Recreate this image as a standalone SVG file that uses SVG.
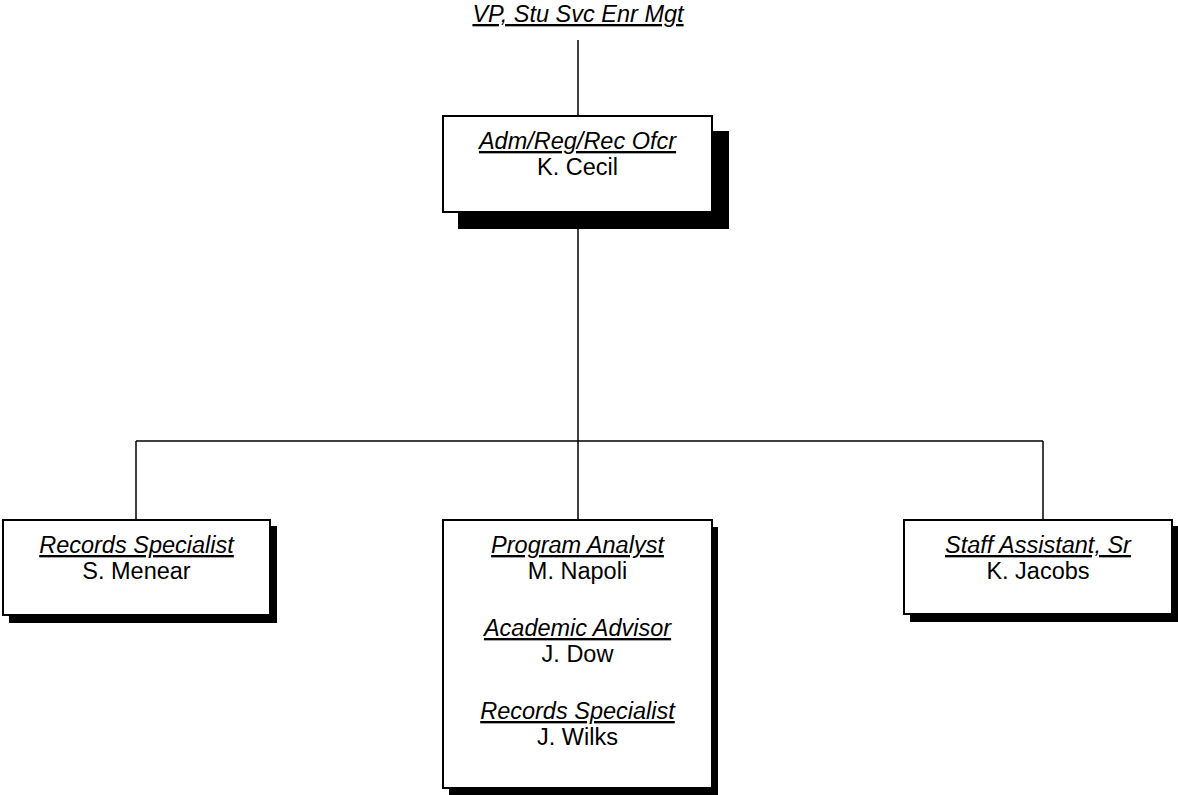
<svg xmlns="http://www.w3.org/2000/svg" width="1178" height="795" viewBox="0 0 1178 795">
<style>
.bg{fill:#fff}
.line{stroke:#000;stroke-width:1.5;fill:none}
.box{fill:#fff;stroke:#000;stroke-width:2}
.shadow{fill:#000}
text{font-family:"Liberation Sans",Arial,sans-serif;font-size:23.5px;fill:#000;text-anchor:middle}
.title{font-style:italic;text-decoration:underline}
</style>
<rect class="bg" x="0" y="0" width="1178" height="795"/>
<g id="connectors">
<line class="line" x1="578" y1="40" x2="578" y2="116"/>
<line class="line" x1="578" y1="212" x2="578" y2="520"/>
<line class="line" x1="136" y1="441" x2="1043" y2="441"/>
<line class="line" x1="136" y1="441" x2="136" y2="520"/>
<line class="line" x1="1043" y1="441" x2="1043" y2="520"/>
</g>
<g id="vp">
<text class="title" x="578" y="22">VP, Stu Svc Enr Mgt</text>
</g>
<g id="node-cecil">
<rect class="shadow" x="458" y="131" width="271" height="98"/>
<rect class="box" x="443" y="116" width="269" height="96"/>
<text class="title" x="577.5" y="149">Adm/Reg/Rec Ofcr</text>
<text x="577.5" y="175">K. Cecil</text>
</g>
<g id="node-menear">
<rect class="shadow" x="9" y="526" width="268" height="97"/>
<rect class="box" x="3" y="520" width="267" height="95"/>
<text class="title" x="136.5" y="553">Records Specialist</text>
<text x="136.5" y="579">S. Menear</text>
</g>
<g id="node-program">
<rect class="shadow" x="449" y="527" width="269" height="268"/>
<rect class="box" x="443" y="520" width="269" height="268"/>
<text class="title" x="577.5" y="553">Program Analyst</text>
<text x="577.5" y="579">M. Napoli</text>
<text class="title" x="577.5" y="636">Academic Advisor</text>
<text x="577.5" y="662">J. Dow</text>
<text class="title" x="577.5" y="719">Records Specialist</text>
<text x="577.5" y="745">J. Wilks</text>
</g>
<g id="node-jacobs">
<rect class="shadow" x="910" y="526" width="268" height="96"/>
<rect class="box" x="904" y="520" width="268" height="94"/>
<text class="title" x="1038" y="553">Staff Assistant, Sr</text>
<text x="1038" y="579">K. Jacobs</text>
</g>
</svg>
